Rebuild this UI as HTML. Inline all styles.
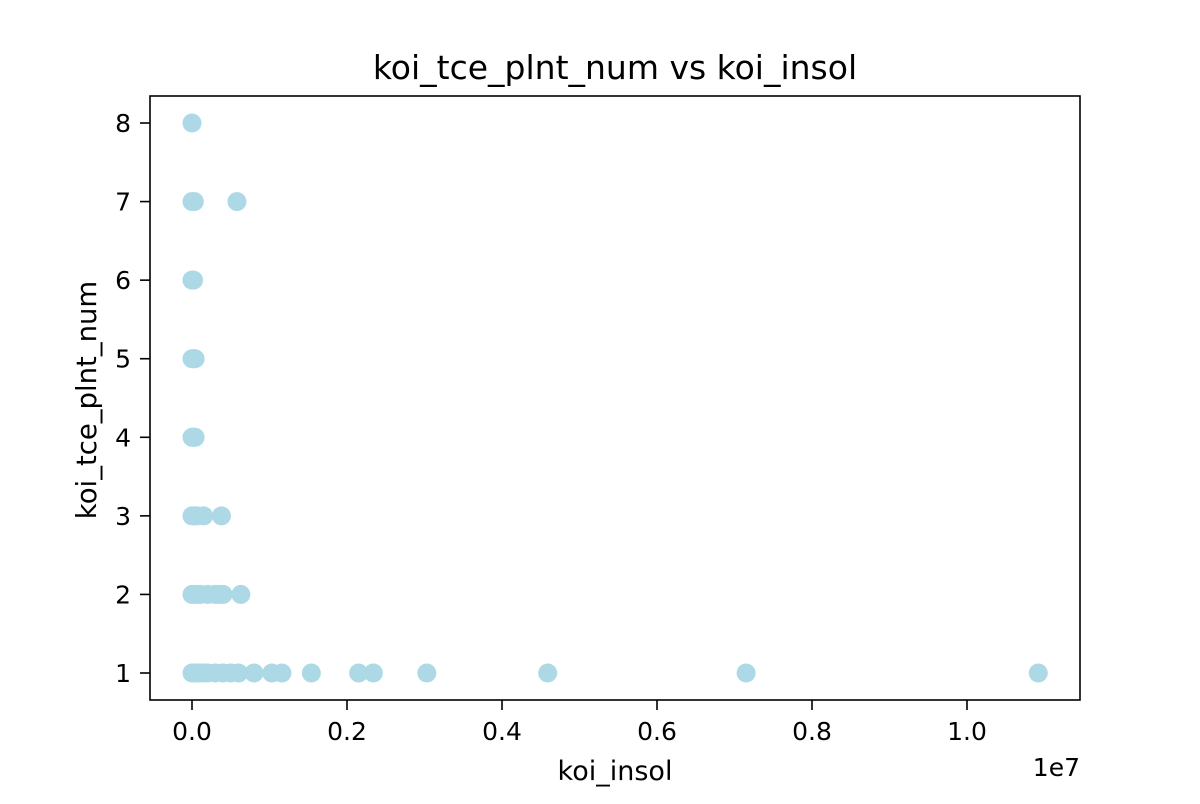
<!DOCTYPE html>
<html><head><meta charset="utf-8"><style>
body{margin:0;background:#fff;font-family:"DejaVu Sans","Liberation Sans",sans-serif}
</style></head><body>
<svg width="1200" height="800" viewBox="0 0 1200 800" xmlns="http://www.w3.org/2000/svg" font-family="DejaVu Sans, Liberation Sans, sans-serif">
<rect width="1200" height="800" fill="#fff"/>
<text x="615" y="79" font-size="33" text-anchor="middle">koi_tce_plnt_num vs koi_insol</text>
<g id="pts"></g>
<rect x="150" y="96" width="930" height="604" fill="none" stroke="#000" stroke-width="1.6"/>
<g id="xt"></g>
<g id="yt"></g>
<text x="615" y="780" font-size="27" text-anchor="middle">koi_insol</text>
<text x="1080" y="776" font-size="25" text-anchor="end">1e7</text>
<text transform="translate(96,400) rotate(-90)" font-size="27.5" text-anchor="middle">koi_tce_plnt_num</text>
</svg>
<script>
const xVals=[0,0.002,0.005,0.01,0.015,0.02,0.03,0.04,0.05,0.06,0.080,0.103,0.116,0.154,0.215,0.234,0.303,0.459,0.715,1.092,
 0,0.005,0.01,0.02,0.03,0.035,0.04,0.063,
 0,0.003,0.006,0.015,0.038,
 0,0.002,0.004,
 0,0.002,0.004,
 0,0.002,
 0,0.003,0.058,
 0];
const yVals=[1,1,1,1,1,1,1,1,1,1,1,1,1,1,1,1,1,1,1,1,
 2,2,2,2,2,2,2,2,
 3,3,3,3,3,
 4,4,4,
 5,5,5,
 6,6,
 7,7,7,
 8];
const xTicks=[0,0.2,0.4,0.6,0.8,1.0];
const xTickLabels=["0.0","0.2","0.4","0.6","0.8","1.0"];
const yTicks=[1,2,3,4,5,6,7,8];
const NS="http://www.w3.org/2000/svg";
const sx=v=>192+v*775;
const sy=v=>673-(v-1)*78.57;
const pts=document.getElementById('pts');
xVals.forEach((x,i)=>{
 const c=document.createElementNS(NS,'circle');
 c.setAttribute('cx',sx(x));c.setAttribute('cy',sy(yVals[i]));c.setAttribute('r',9.5);c.setAttribute('fill','#add8e6');
 
 
 pts.appendChild(c);
});
const xt=document.getElementById('xt');
xTicks.forEach((t,i)=>{
 const l=document.createElementNS(NS,'line');
 l.setAttribute('x1',sx(t));l.setAttribute('x2',sx(t));l.setAttribute('y1',700);l.setAttribute('y2',710);l.setAttribute('stroke','#000');l.setAttribute('stroke-width',1.6);
 
 
 xt.appendChild(l);
 const tx=document.createElementNS(NS,'text');
 tx.setAttribute('x',sx(t));tx.setAttribute('y',740);tx.setAttribute('font-size',25);tx.setAttribute('text-anchor','middle');
 tx.textContent=xTickLabels[i];
 
 
 xt.appendChild(tx);
});
const yt=document.getElementById('yt');
yTicks.forEach(t=>{
 const l=document.createElementNS(NS,'line');
 l.setAttribute('x1',140);l.setAttribute('x2',150);l.setAttribute('y1',sy(t));l.setAttribute('y2',sy(t));l.setAttribute('stroke','#000');l.setAttribute('stroke-width',1.6);
 
 
 yt.appendChild(l);
 const tx=document.createElementNS(NS,'text');
 tx.setAttribute('x',131);tx.setAttribute('y',sy(t)+9);tx.setAttribute('font-size',25);tx.setAttribute('text-anchor','end');
 tx.textContent=String(t);
 
 
 yt.appendChild(tx);
});
</script>
</body></html>
